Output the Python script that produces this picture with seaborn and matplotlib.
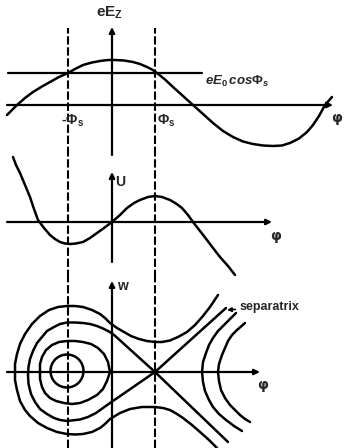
import matplotlib
matplotlib.use("Agg")
import matplotlib.pyplot as plt
from matplotlib.patches import Ellipse
import seaborn as sns

# phase axis in degrees, 0 on the vertical axes; values in arbitrary units
phi_dash = [-44, 43]
phi_s_label = ["-$\\Phi_\\mathrm{s}$", "$\\Phi_\\mathrm{s}$"]

# top: eE_z versus phase
field_phase = [-105, -100, -95, -87, -79, -70, -62, -53, -44, -37, -29, -20, -12,
               -4, 3, 12, 21, 28, 35, 40, 45, 53, 61, 71, 81, 91, 101, 111,
               121, 131, 141, 151, 161, 170, 178, 187, 195, 201, 207, 213, 220]
field_val = [-10, -5, 0, 7, 13, 18.5, 23, 28, 32, 36, 40, 42.5, 44,
             45, 45, 44.5, 43, 41, 38, 35.5, 32, 25.5, 18, 9, 0, -9, -18, -26,
             -32, -36.5, -39, -40.5, -41, -40.5, -38, -33.5, -27, -20, -11, 0, 8]
field_sync = 32
field_sync_range = [-104, 90]

# middle: potential U versus phase
pot_phase = [-99, -96, -92, -87, -82, -78, -74, -68, -62, -57, -52, -47, -42,
             -36, -29, -22, -15, -8, 0, 8, 15, 22, 28, 36, 43, 50, 58, 64,
             70, 76, 81, 88, 95, 101, 108, 116, 123]
pot_val = [65, 57, 49, 37, 25, 13, 2, -6, -13, -17, -20, -21.5, -22,
           -21.5, -20, -16, -11, -6, 0, 7, 14, 19, 22, 25, 26, 25, 22, 18.5,
           14, 7, 0, -9, -18, -26, -35, -44, -53]

# bottom: phase space w versus phase
inner_center = (-45, 1)
inner_diam = 33

orbit2_phase = [-2, -4, -8, -14, -21, -29, -37, -45, -53, -60, -66, -70, -72,
                -72, -72, -70, -67, -62, -56, -48, -40, -32, -24, -15, -9, -5, -2]
orbit2_w = [0, 10, 18, 24, 28, 30, 31, 31, 30, 27, 22, 15, 8,
            0, -7, -15, -21, -26, -29, -31, -32, -31, -28, -23, -17, -9, 0]

sep_phase = [114, 43, -2, -9, -16, -24, -32, -45, -52, -58, -65, -72, -77, -81,
             -83.5, -84, -83.5, -82, -79, -75, -70, -65, -58, -52, -45, -37,
             -29, -22, -15, -9, -4, 1, 43, 116]
sep_w = [64, 0, -31, -36, -41, -45, -47.5, -49, -48, -46, -42, -37, -30, -22,
         -12, -3, 5, 13, 21, 29, 35, 41, 45, 48, 49.5, 49.5,
         49, 48, 46, 43.5, 41, 38, 0, -70]

outer_phase = [106, 98, 91, 83, 75, 66, 58, 50, 43, 35, 27, 19, 12, 5, -2, -7,
               -12, -20, -29, -37, -45, -54, -63, -72, -80, -87, -92, -95, -97,
               -97, -97, -95, -92, -87, -82, -74, -65, -55, -45, -37, -29, -20,
               -12, -7, -2, 8, 18, 30, 43, 51, 58, 65, 71, 80, 88, 97, 105]
outer_w = [77, 65, 56, 47, 40, 35, 31.5, 30, 30, 31, 33, 36, 40, 44, 49, 54,
           58, 62, 65, 66, 66, 65, 62, 56, 48, 38, 28, 18, 8,
           0, -8, -18, -29, -38, -44, -51, -56, -60, -62, -62.5, -62, -60,
           -56, -52, -47, -41, -37, -35, -35, -36, -38, -42, -46, -53, -60, -68, -76]

open1_phase = [124, 118, 112, 106, 101, 97, 94, 91, 90, 91, 93, 97, 101, 107,
               114, 122, 130]
open1_w = [59, 53, 47, 41, 34, 27, 19, 10, 0, -10, -19, -28, -35, -42,
           -48, -54, -59]
open2_phase = [133, 129, 125, 120, 116, 113, 110, 107, 106, 107, 109, 113, 118,
               123, 128, 133, 138]
open2_w = [49, 45.5, 42, 37, 31, 24, 17, 8, 0, -9, -18, -26, -33,
           -38, -43, -47, -50]

sns.set_style("white")
plt.rcParams["font.family"] = ["Liberation Sans", "DejaVu Sans"]
plt.rcParams["font.weight"] = "bold"
plt.rcParams["mathtext.fontset"] = "custom"
plt.rcParams["mathtext.rm"] = "Liberation Sans:bold"
plt.rcParams["mathtext.it"] = "Liberation Sans:bold:italic"
plt.rcParams["mathtext.bf"] = "Liberation Sans:bold"

LW = 1.8
XLIM = (-112, 232)

fig = plt.figure(figsize=(3.44, 4.48), dpi=100)
ax_top = fig.add_axes([0, 293 / 448, 1, 155 / 448])
ax_mid = fig.add_axes([0, 170 / 448, 1, 123 / 448])
ax_bot = fig.add_axes([0, 0, 1, 170 / 448])
ax_top.set_ylim(-50, 105)
ax_mid.set_ylim(-56, 67)
ax_bot.set_ylim(-76, 94)


def arrow_axis(ax, start, end):
    ax.annotate("", xy=end, xytext=start,
                arrowprops=dict(arrowstyle="-|>", lw=1.6, color="black",
                                mutation_scale=8, shrinkA=0, shrinkB=0))


def curve(ax, xs, ys):
    sns.lineplot(x=xs, y=ys, ax=ax, sort=False, estimator=None,
                 color="black", linewidth=LW, solid_joinstyle="round",
                 solid_capstyle="round")


for ax in (ax_top, ax_mid, ax_bot):
    ax.set_xlim(*XLIM)
    ax.axis("off")
    lo = ax.get_ylim()[0]
    hi = 77 if ax is ax_top else ax.get_ylim()[1]
    ax.vlines(phi_dash, lo, hi, colors="black", linewidth=1.5,
              linestyles=(0, (4, 1.3)))

# top panel
curve(ax_top, field_phase, field_val)
ax_top.plot(field_sync_range, [field_sync, field_sync], color="black", lw=1.6)
arrow_axis(ax_top, (-105, 0), (221, 0))
arrow_axis(ax_top, (0, -50), (0, 78))
ax_top.text(-2, 92, "eE$_\\mathrm{Z}$", ha="center", va="center", fontsize=11)
ax_top.text(93, 24, "$eE_0\\,cos\\Phi_s$", ha="left", va="center", fontsize=9.5)
ax_top.text(phi_dash[0] - 7, -16, phi_s_label[0], ha="left", va="center", fontsize=10)
ax_top.text(phi_dash[1] + 2, -16, phi_s_label[1], ha="left", va="center", fontsize=10)
ax_top.text(225, -13, "φ", ha="center", va="center", fontsize=10,
            family="DejaVu Sans")

# middle panel
curve(ax_mid, pot_phase, pot_val)
arrow_axis(ax_mid, (-105, 0), (160, 0))
arrow_axis(ax_mid, (0, -40), (0, 50))
ax_mid.text(3, 40, "U", ha="left", va="center", fontsize=10)
ax_mid.text(164, -14, "φ", ha="center", va="center", fontsize=10,
            family="DejaVu Sans")

# bottom panel
ax_bot.add_patch(Ellipse(inner_center, inner_diam, inner_diam, fill=False,
                         ec="black", lw=LW))
curve(ax_bot, orbit2_phase, orbit2_w)
curve(ax_bot, sep_phase, sep_w)
curve(ax_bot, outer_phase, outer_w)
curve(ax_bot, open1_phase, open1_w)
curve(ax_bot, open2_phase, open2_w)
arrow_axis(ax_bot, (-105, 0), (148, 0))
arrow_axis(ax_bot, (0, -76), (0, 91))
ax_bot.text(5, 86, "w", ha="left", va="center", fontsize=10)
ax_bot.text(151, -13, "φ", ha="center", va="center", fontsize=10,
            family="DejaVu Sans")
ax_bot.annotate("separatrix", xy=(115, 62), xytext=(128, 65), ha="left",
                va="center", fontsize=9,
                arrowprops=dict(arrowstyle="-|>", lw=1.2, color="black",
                                mutation_scale=6, shrinkA=1, shrinkB=0))

fig.savefig("out.png", dpi=100)
